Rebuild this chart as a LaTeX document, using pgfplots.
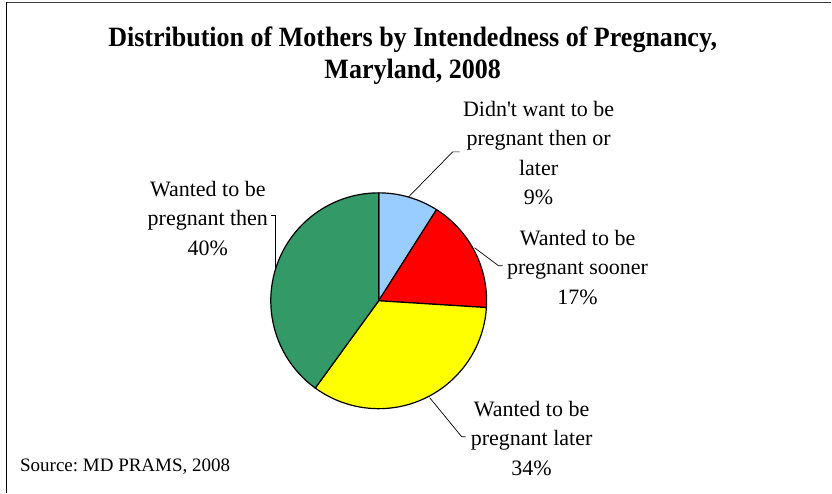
\documentclass[border=0pt]{standalone}
\usepackage{fontspec}
\setmainfont{Liberation Serif}
\newfontfamily\titlefont[FakeStretch=0.93]{Liberation Serif}
\usepackage{pgfplots}
\usepackage{pgfplotstable}
\pgfplotsset{compat=1.18}
\definecolor{sliceblue}{RGB}{153,204,255}
\definecolor{slicered}{RGB}{255,0,0}
\definecolor{sliceyellow}{RGB}{255,255,0}
\definecolor{slicegreen}{RGB}{51,153,102}
\frenchspacing

% share of mothers (%), clockwise from 12 o'clock
\pgfplotstableread{
value
9
17
34
40
}\piedata

\begin{document}
\begin{tikzpicture}
\pgfplotstablegetelem{0}{value}\of\piedata \let\vA\pgfplotsretval
\pgfplotstablegetelem{1}{value}\of\piedata \let\vB\pgfplotsretval
\pgfplotstablegetelem{2}{value}\of\piedata \let\vC\pgfplotsretval
\pgfplotstablegetelem{3}{value}\of\piedata \let\vD\pgfplotsretval
\pgfmathsetmacro\aO{90}
\pgfmathsetmacro\aA{\aO-3.6*\vA}
\pgfmathsetmacro\aB{\aA-3.6*\vB}
\pgfmathsetmacro\aC{\aB-3.6*\vC}
\pgfmathsetmacro\aD{\aC-3.6*\vD}
\def\cx{379}\def\cy{192}\def\R{108}
\begin{axis}[
    width=832pt, height=493pt, scale only axis,
    xmin=0, xmax=832, ymin=0, ymax=493,
    hide axis, clip=false,
]
\path (axis cs:0,0) rectangle (axis cs:832,493);
% frame
\draw[black!75, line width=1.3pt] (axis cs:6.5,490.5) -- (axis cs:832,490.5);
\draw[black, line width=1.3pt] (axis cs:6.5,490.5) -- (axis cs:6.5,0);
% pie slices
\filldraw[fill=sliceblue, draw=black, line width=1.2pt, line join=round]
  (axis cs:\cx,\cy) -- ++(\aO:\R pt) arc[start angle=\aO, end angle=\aA, radius=\R pt] -- cycle;
\filldraw[fill=slicered, draw=black, line width=1.2pt, line join=round]
  (axis cs:\cx,\cy) -- ++(\aA:\R pt) arc[start angle=\aA, end angle=\aB, radius=\R pt] -- cycle;
\filldraw[fill=sliceyellow, draw=black, line width=1.2pt, line join=round]
  (axis cs:\cx,\cy) -- ++(\aB:\R pt) arc[start angle=\aB, end angle=\aC, radius=\R pt] -- cycle;
\filldraw[fill=slicegreen, draw=black, line width=1.2pt, line join=round]
  (axis cs:\cx,\cy) -- ++(\aC:\R pt) arc[start angle=\aC, end angle=\aD, radius=\R pt] -- cycle;
% leader lines
\draw[black, line width=0.7pt] (axis cs:409,296) -- (axis cs:453,341) -- (axis cs:460,341);
\draw[black, line width=0.7pt] (axis cs:475,245) -- (axis cs:499,227) -- (axis cs:503,227);
\draw[black, line width=0.7pt] (axis cs:430,95) -- (axis cs:462,56) -- (axis cs:466,56);
\draw[black, line width=0.7pt] (axis cs:276,225) -- (axis cs:276,277) -- (axis cs:271,277);
% title
\node[anchor=north, inner sep=0pt, align=center, font=\titlefont\fontsize{28}{32}\selectfont\bfseries]
  at (axis cs:413,493-27) {Distribution of Mothers by Intendedness of Pregnancy,\\Maryland, 2008};
% slice labels
\tikzset{lbl/.style={anchor=north, inner sep=0pt, align=center, font=\fontsize{22}{29.5}\selectfont}}
\node[lbl] at (axis cs:539,493-101) {Didn\textquotesingle t want to be\\pregnant then or\\later\\\vA\%};
\node[lbl] at (axis cs:578,493-230) {Wanted to be\\pregnant sooner\\\vB\%};
\node[lbl] at (axis cs:532,493-401) {Wanted to be\\pregnant later\\\vC\%};
\node[lbl] at (axis cs:208,493-181) {Wanted to be\\pregnant then\\\vD\%};
% source
\node[anchor=base west, inner sep=0pt, font=\fontsize{19}{22}\selectfont]
  at (axis cs:20,493-472) {Source: MD PRAMS, 2008};
\end{axis}
\end{tikzpicture}
\end{document}
